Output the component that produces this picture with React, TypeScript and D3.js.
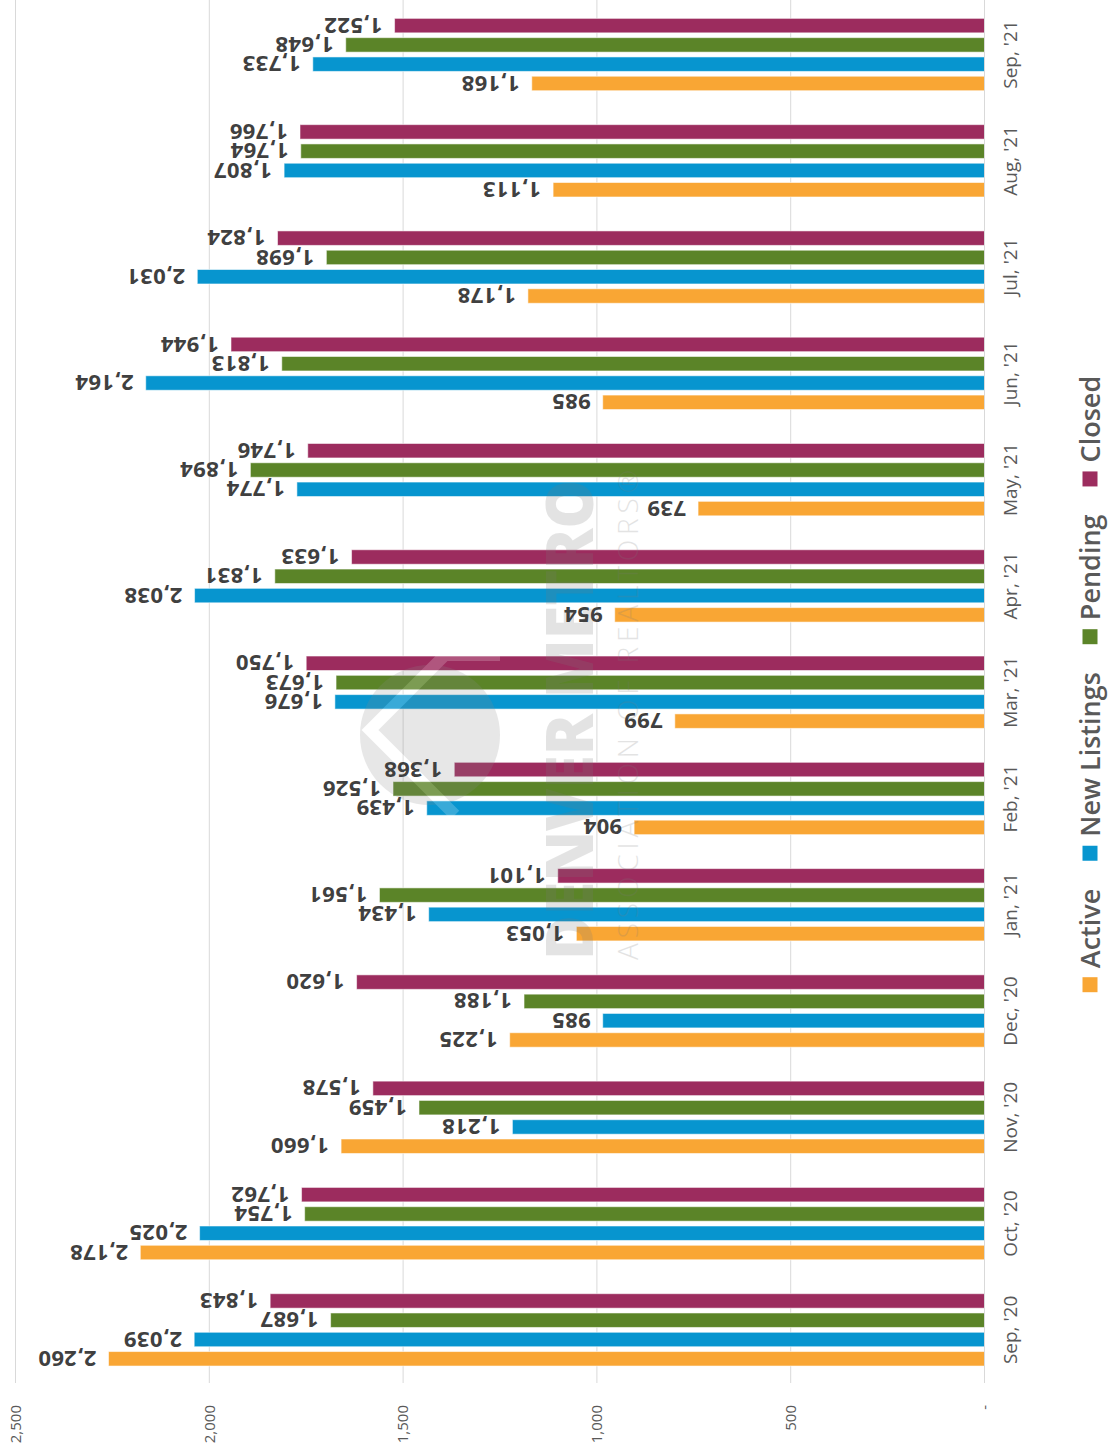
import React, { useEffect, useRef } from "react";
import * as d3 from "d3";

const months = [
  "Sep, '20", "Oct, '20", "Nov, '20", "Dec, '20", "Jan, '21", "Feb, '21", "Mar, '21",
  "Apr, '21", "May, '21", "Jun, '21", "Jul, '21", "Aug, '21", "Sep, '21",
];
const seriesNames = ["Active", "New Listings", "Pending", "Closed"];
const seriesColors = ["#F9A634", "#0795CF", "#5B8428", "#9C2C5E"];
const active = [2260, 2178, 1660, 1225, 1053, 904, 799, 954, 739, 985, 1178, 1113, 1168];
const newListings = [2039, 2025, 1218, 985, 1434, 1439, 1676, 2038, 1774, 2164, 2031, 1807, 1733];
const pending = [1687, 1754, 1459, 1188, 1561, 1526, 1673, 1831, 1894, 1813, 1698, 1764, 1648];
const closed = [1843, 1762, 1578, 1620, 1101, 1368, 1750, 1633, 1746, 1944, 1824, 1766, 1522];
const tickValues = [0, 500, 1000, 1500, 2000, 2500];
const tickLabels = ["-", "500", "1,000", "1,500", "2,000", "2,500"];
const watermarkTitle = "DENVER METRO";
const watermarkSub = "ASSOCIATION OF REALTORS®";

export default function App() {
  const ref = useRef<SVGSVGElement>(null);

  useEffect(() => {
    const svg = d3.select(ref.current);
    svg.selectAll("*").remove();
    const W = 1455; // original chart width (before rotation)
    const font = "'Open Sans', 'Noto Sans', sans-serif";
    const root = svg.append("g").attr("transform", `translate(0,${W}) rotate(-90)`);

    const x0 = d3.scaleBand<string>().domain(months).range([72, 1453.6]).paddingInner(0.274).paddingOuter(0.137);
    const x1 = d3.scaleBand<string>().domain(seriesNames).range([0, x0.bandwidth()]).paddingInner(0.25).paddingOuter(0.125);
    const y = d3.scaleLinear().domain([0, 2500]).range([984.5, 15.5]);

    const seriesValues = [active, newListings, pending, closed];

    // gridlines
    root.append("g").selectAll("line").data(tickValues).join("line")
      .attr("x1", 72).attr("x2", W)
      .attr("y1", (d) => y(d)).attr("y2", (d) => y(d))
      .attr("stroke", "#d9d9d9").attr("stroke-width", 1);

    // tick labels
    root.append("g").selectAll("text").data(tickValues).join("text")
      .attr("x", 50).attr("y", (d) => y(d)).attr("dy", "0.35em")
      .attr("text-anchor", "end")
      .attr("font-family", font).attr("font-size", 15).attr("fill", "#595959")
      .text((d, i) => tickLabels[i]);

    // bars
    const bars = root.append("g");
    seriesNames.forEach((s, si) => {
      bars.append("g").selectAll("rect").data(seriesValues[si]).join("rect")
        .attr("x", (d, i) => (x0(months[i]) as number) + (x1(s) as number))
        .attr("y", (d) => y(d))
        .attr("width", x1.bandwidth())
        .attr("height", (d) => y(0) - y(d))
        .attr("fill", seriesColors[si])
        .attr("stroke", "rgba(255,255,255,0.55)")
        .attr("stroke-width", 1);
    });

    // category axis line
    root.append("line").attr("x1", 72).attr("x2", W).attr("y1", y(0)).attr("y2", y(0))
      .attr("stroke", "#d9d9d9").attr("stroke-width", 1);

    // watermark
    const wm = root.append("g").attr("opacity", 0.2);
    wm.append("circle").attr("cx", 720).attr("cy", 430).attr("r", 70).attr("fill", "#8a8a8a");
    wm.append("path").attr("d", "M640,455 L725,370 L800,445 L800,500")
      .attr("fill", "none").attr("stroke", "#ffffff").attr("stroke-width", 12);
    wm.append("text").attr("x", 495).attr("y", 593).attr("textLength", 480)
      .attr("lengthAdjust", "spacingAndGlyphs")
      .attr("font-family", font).attr("font-weight", 800).attr("font-size", 66)
      .attr("fill", "#7a7a7a").text(watermarkTitle);
    wm.append("text").attr("x", 495).attr("y", 638).attr("textLength", 490)
      .attr("lengthAdjust", "spacing")
      .attr("font-family", font).attr("font-weight", 300).attr("font-size", 28)
      .attr("fill", "#7a7a7a").text(watermarkSub);

    // data labels
    const labels = root.append("g");
    seriesNames.forEach((s, si) => {
      labels.append("g").selectAll("text").data(seriesValues[si]).join("text")
        .attr("transform", (d, i) =>
          `translate(${(x0(months[i]) as number) + (x1(s) as number) + x1.bandwidth() / 2},${y(d) - 12}) rotate(-90)`)
        .attr("dy", "0.36em")
        .attr("text-anchor", "start")
        .attr("font-family", font).attr("font-weight", 700).attr("font-size", 22)
        .attr("letter-spacing", 0.4)
        .attr("fill", "#404040")
        .text((d) => d3.format(",")(d));
    });

    // category labels
    root.append("g").selectAll("text").data(months).join("text")
      .attr("x", (d) => (x0(d) as number) + x0.bandwidth() / 2)
      .attr("y", 1016.5)
      .attr("text-anchor", "middle")
      .attr("font-family", font).attr("font-size", 19).attr("fill", "#595959")
      .text((d) => d);

    // legend
    const legend = root.append("g");
    const items = seriesNames.map((name, i) => {
      const g = legend.append("g");
      g.append("rect").attr("width", 15).attr("height", 15).attr("y", 1082.5).attr("fill", seriesColors[i]);
      const t = g.append("text").attr("x", 24).attr("y", 1099.5)
        .attr("font-family", font).attr("font-weight", 600).attr("font-size", 27)
        .attr("fill", "#595959").text(name);
      const w = (t.node() as SVGTextElement).getComputedTextLength();
      return { g, w: 24 + w };
    });
    const gap = 28;
    const total = d3.sum(items, (d) => d.w) + gap * (items.length - 1);
    let cx = 771 - total / 2;
    items.forEach((it) => {
      it.g.attr("transform", `translate(${cx},0)`);
      cx += it.w + gap;
    });
  }, []);

  return (
    <svg
      ref={ref}
      width={1110}
      height={1455}
      style={{ position: "absolute", left: 0, top: 0, display: "block", background: "#ffffff" }}
    />
  );
}
